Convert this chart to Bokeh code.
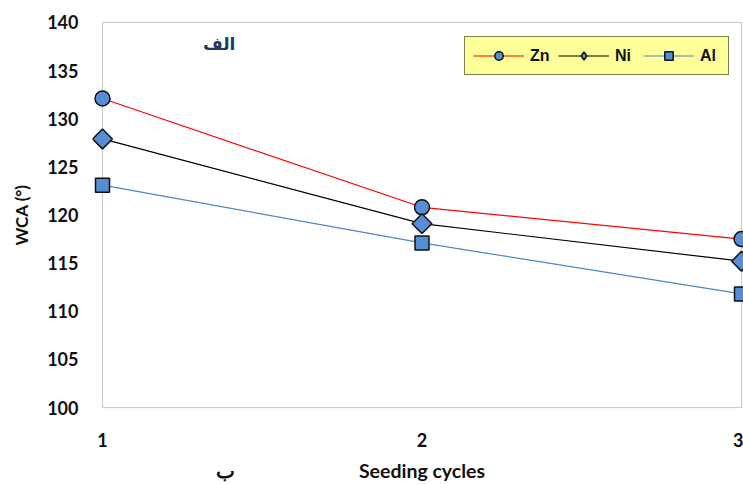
import math
from bokeh.plotting import figure
from bokeh.models import Label, Range1d, FixedTicker, LinearAxis, BoxAnnotation, Legend, LegendItem
from bokeh.embed import file_html
from bokeh.resources import INLINE

cycles = [1, 2, 3]
zn = [132.1, 120.8, 117.5]
ni = [127.9, 119.1, 115.2]
al = [123.1, 117.1, 111.8]
y_ticks = [100, 105, 110, 115, 120, 125, 130, 135, 140]
x_title = "Seeding cycles"
y_title = "WCA (°)"
note_top = "الف"
note_bottom = "ب"

# small paddings so markers at x=1 are not cut (plot border drawn separately)
x_lo, x_hi = 1, 3
y_lo, y_hi = 100, 140
pad_l, pad_r, pad_y = 10 / 319.5, 2 / 319.5, 0.1

p = figure(width=743, height=484, output_backend="svg", toolbar_location=None,
           x_range=Range1d(x_lo - pad_l, x_hi + pad_r),
           y_range=Range1d(y_lo - pad_y, y_hi + pad_y),
           min_border_left=92, min_border_right=0, min_border_top=21, min_border_bottom=72)
p.xgrid.visible = False
p.ygrid.visible = False
p.outline_line_color = None

p.add_layout(BoxAnnotation(left=x_lo, right=x_hi, bottom=y_lo, top=y_hi,
                           fill_color=None, line_color="#595959", line_width=1.2,
                           level="underlay"))

fill = "#558ED5"
edge = "#111111"
items = []

l_zn = p.line(cycles, zn, line_color="#FF0000", line_width=1.2)
s_zn = p.scatter(cycles, zn, marker="circle", size=15, fill_color=fill,
                 line_color=edge, line_width=1.5)
items.append(LegendItem(label="Zn", renderers=[l_zn, s_zn]))

l_ni = p.line(cycles, ni, line_color="#000000", line_width=1.2)
s_ni_leg = p.scatter(cycles, ni, marker="diamond", size=13, fill_color=fill,
                     line_color=edge, line_width=1.5)
p.scatter(cycles, ni, marker="square", size=14, angle=math.pi / 4, fill_color=fill,
          line_color=edge, line_width=1.5)
items.append(LegendItem(label="Ni", renderers=[l_ni, s_ni_leg]))

l_al = p.line(cycles, al, line_color="#4F86C6", line_width=1.2)
s_al = p.scatter(cycles, al, marker="square", size=14, fill_color=fill,
                 line_color=edge, line_width=1.5)
items.append(LegendItem(label="Al", renderers=[l_al, s_al]))

leg = Legend(items=items, orientation="horizontal", location=(372, 333))
p.add_layout(leg)

# secondary bottom axis carrying the x title and the Arabic note on one line
ax2 = LinearAxis(ticker=FixedTicker(ticks=[1.385, 2.0]),
                 major_label_overrides={1.385: note_bottom, 2.0: x_title})
p.add_layout(ax2, "below")

for ax in (p.xaxis[0], p.yaxis[0], ax2):
    ax.major_tick_line_color = None
    ax.minor_tick_line_color = None
    ax.axis_line_color = None
    ax.major_label_text_font = "Lato"
    ax.major_label_text_font_style = "bold"
    ax.major_label_text_font_size = "18px"
    ax.major_label_text_color = "#111111"
    ax.axis_label_text_font = "Lato"
    ax.axis_label_text_font_style = "bold"
    ax.axis_label_text_font_size = "17px"
    ax.axis_label_text_color = "#111111"

ax2.major_label_text_font_size = "19.5px"
ax2.major_label_standoff = 3

p.xaxis[0].ticker = FixedTicker(ticks=cycles)
p.yaxis.ticker = FixedTicker(ticks=y_ticks)
p.xaxis[0].major_label_standoff = 18
p.yaxis.major_label_standoff = 8
p.yaxis.axis_label = y_title
p.yaxis.axis_label_standoff = 12

leg.background_fill_color = "#FFFF99"
leg.background_fill_alpha = 1
leg.border_line_color = "#000000"
leg.border_line_width = 1.5
leg.label_text_font = "Liberation Sans"
leg.label_text_font_style = "bold"
leg.label_text_font_size = "16px"
leg.label_text_color = "#111111"
leg.glyph_width = 51
leg.glyph_height = 21
leg.label_standoff = 6
leg.spacing = 8
leg.padding = 8
leg.margin = 0

p.add_layout(Label(x=1.365, y=137.8, text=note_top, text_font="DejaVu Sans",
                   text_font_style="bold", text_font_size="17px", text_color="#1F3864",
                   text_align="center", text_baseline="middle"))

open("out.html", "w").write(file_html(p, INLINE))
